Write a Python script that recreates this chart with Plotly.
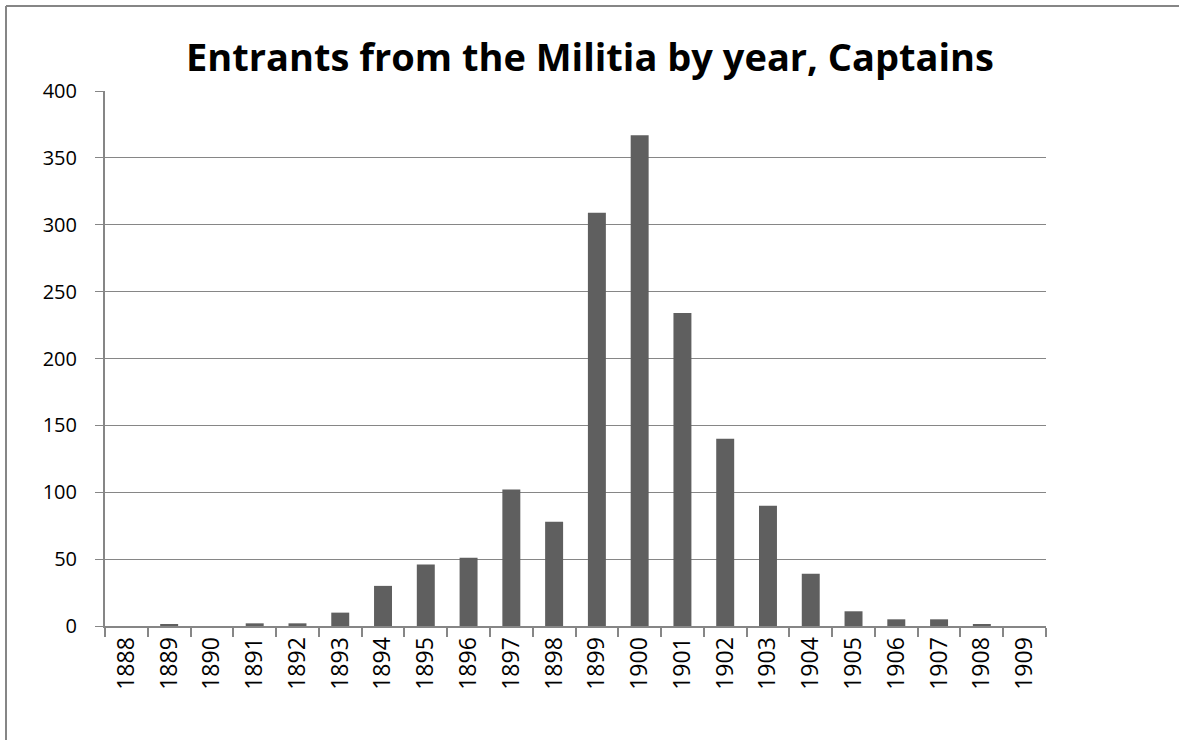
import plotly.graph_objects as go

years = [str(y) for y in range(1888, 1910)]
captains = [0, 1, 0, 2, 2, 10, 30, 46, 51, 102, 78, 309, 367, 234, 140, 90, 39, 11, 5, 5, 1, 0]
y_ticks = [0, 50, 100, 150, 200, 250, 300, 350, 400]
title_text = "Entrants from the Militia by year, Captains"

W, H = 1179, 740
L, R, T, B = 105, 1046, 91, 626

fig = go.Figure()
fig.add_trace(go.Bar(x=years, y=captains, marker=dict(color="#5f5f5f", line=dict(width=0)),
                     hoverinfo="x+y"))

gray = "#868686"
fam = "Open Sans, Liberation Sans, sans-serif"
fig.update_layout(
    width=W, height=H,
    margin=dict(l=L, r=W - R, t=T, b=H - B, pad=0),
    paper_bgcolor="white", plot_bgcolor="white",
    bargap=0.58,
    showlegend=False,
    font=dict(family=fam, color="black", size=21),
    title=dict(text="<b>" + title_text + "</b>", x=590 / W, xref="container",
               xanchor="center", y=1 - 58 / H, yanchor="middle",
               font=dict(size=38, family=fam, color="black")),
    xaxis=dict(type="category", tickson="boundaries", ticks="outside", ticklen=9,
               tickcolor=gray, tickwidth=2, showline=True, linecolor=gray, linewidth=2,
               showgrid=False, tickangle=-90,
               tickfont=dict(size=23, family=fam, color="black"), automargin=False),
    yaxis=dict(range=[0, 400], tickvals=y_ticks, ticks="outside", ticklen=8,
               tickcolor=gray, tickwidth=1, showline=True, linecolor=gray, linewidth=2,
               showgrid=True, gridcolor=gray, gridwidth=1, zeroline=False,
               tickfont=dict(size=20, family=fam, color="black"),
               automargin=False, ticklabelstandoff=14),
)

# outer chart-area border (only top and left edges fall inside the window)
pw, ph = R - L, B - T
bx0, by_top = (6 - L) / pw, (B - 6) / ph
fig.add_shape(type="line", xref="paper", yref="paper",
              x0=bx0, x1=(W - L) / pw, y0=by_top, y1=by_top,
              line=dict(color=gray, width=2), layer="below")
fig.add_shape(type="line", xref="paper", yref="paper",
              x0=bx0, x1=bx0, y0=by_top, y1=(B - H) / ph,
              line=dict(color=gray, width=2), layer="below")

fig.write_html("out.html", config={"displayModeBar": False})
